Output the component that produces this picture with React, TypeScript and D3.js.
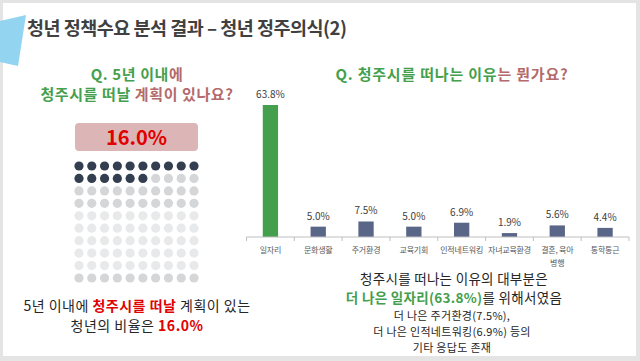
import React from "react";
import * as d3 from "d3";

const categories = ["일자리", "문화생활", "주거환경", "교육기회", "인적네트워킹", "자녀교육환경", "결혼, 육아\n병행", "통학통근"];
const values = [63.8, 5.0, 7.5, 5.0, 6.9, 1.9, 5.6, 4.4];
const leaveShare = 16.0;
const dotRows = 10;
const dotCols = 10;

const FONT = "'Noto Sans CJK KR', 'Noto Sans', sans-serif";
const GREEN = "#44a04c";
const ROSE = "#b46a6a";
const RED = "#e00000";

export default function App() {
  const W = 640, H = 361;
  const x = d3.scaleBand<string>().domain(categories).range([246.5, 629]).paddingInner(0.68).paddingOuter(0.34);
  const band = d3.scaleBand<string>().domain(categories).range([246.5, 629]);
  const y = d3.scaleLinear().domain([0, 63.8]).range([237, 105]);

  const dx = d3.scaleLinear().domain([0, dotCols - 1]).range([79, 194]);
  const dy = d3.scaleLinear().domain([0, dotRows - 1]).range([166, 278]);
  const filled = Math.round(leaveShare);
  const dots = d3.range(dotRows * dotCols).map((i) => {
    const r = Math.floor(i / dotCols);
    const c = i % dotCols;
    let fill = "#333f50";
    if (i >= filled) {
      fill = r <= 3 || r === 9 ? "#d5d6d8" : "#e8e9ea";
    }
    return { r, c, fill };
  });

  const ticks = [...categories.map((c) => band(c) as number), 629];

  return (
    <svg width={W} height={H} style={{ position: "absolute", left: 0, top: 0 }} fontFamily={FONT}>
      <rect x={0} y={0} width={W} height={H} fill="#e4e4e4" />
      <rect x={3} y={3} width={633} height={353} fill="#ffffff" />
      <polygon points="0,21 26,15 18,66 0,62" fill="#93d4f0" />

      <text x={27} y={35} fontSize={18.5} fontWeight={700} fill="#404040" letterSpacing={-0.5}>
        청년 정책수요 분석 결과 – 청년 정주의식(2)
      </text>

      {/* Left question */}
      <text x={137} y={80} textAnchor="middle" fontSize={15} fontWeight={700} fill={GREEN} letterSpacing={0.6}>
        Q. 5년 이내<tspan fill={ROSE}>에</tspan>
      </text>
      <text x={137} y={100} textAnchor="middle" fontSize={15} fontWeight={700} fill={GREEN} letterSpacing={0.6}>
        청주시를 떠날 <tspan fill={ROSE}>계획이 있나요?</tspan>
      </text>

      <rect x={75} y={123} width={123} height={28} rx={4} fill="#dcb6b6" />
      <text x={136.5} y={144.5} textAnchor="middle" fontSize={20} fontWeight={700} fill={RED}>
        {leaveShare.toFixed(1)}%
      </text>

      {dots.map((d, i) => (
        <circle key={i} cx={dx(d.c)} cy={dy(d.r)} r={4.6} fill={d.fill} />
      ))}

      <text x={137} y={311} textAnchor="middle" fontSize={14} fill="#262626" letterSpacing={0.5}>
        5년 이내에 <tspan fill={RED} fontWeight={700}>청주시를 떠날</tspan> 계획이 있는
      </text>
      <text x={137} y={331} textAnchor="middle" fontSize={14} fill="#262626" letterSpacing={0.5}>
        청년의 비율은 <tspan fill={RED} fontWeight={700}>{leaveShare.toFixed(1)}%</tspan>
      </text>

      {/* Right question */}
      <text x={452} y={80} textAnchor="middle" fontSize={15} fontWeight={700} fill={GREEN} letterSpacing={0.8}>
        Q. 청주시를 떠나는 이유<tspan fill={ROSE}>는 뭔가요?</tspan>
      </text>

      {/* Bars */}
      {categories.map((c, i) => (
        <g key={c}>
          <rect
            x={x(c) as number}
            y={y(values[i])}
            width={x.bandwidth()}
            height={y(0) - y(values[i])}
            fill={i === 0 ? GREEN : "#5a6688"}
          />
          <text
            x={(x(c) as number) + x.bandwidth() / 2}
            y={y(values[i]) - 7}
            textAnchor="middle"
            fontSize={10}
            fill="#404040"
          >
            {values[i].toFixed(1)}%
          </text>
          {c.split("\n").map((line, j) => (
            <text
              key={j}
              x={(band(c) as number) + band.bandwidth() / 2}
              y={252.5 + j * 13}
              textAnchor="middle"
              fontSize={8}
              letterSpacing={-0.2}
              fill="#595959"
            >
              {line}
            </text>
          ))}
        </g>
      ))}
      <line x1={246.5} x2={629} y1={237} y2={237} stroke="#bfbfbf" strokeWidth={1} />
      {ticks.map((t, i) => (
        <line key={i} x1={t} x2={t} y1={237} y2={241} stroke="#bfbfbf" strokeWidth={1} />
      ))}

      {/* Right summary */}
      <text x={454} y={284} textAnchor="middle" fontSize={13.5} fill="#262626" letterSpacing={0.3}>
        청주시를 떠나는 이유의 대부분은
      </text>
      <text x={454} y={303} textAnchor="middle" fontSize={13.5} fill="#262626" letterSpacing={0.3}>
        <tspan fill={GREEN} fontWeight={700}>더 나은 일자리({values[0].toFixed(1)}%)</tspan>를 위해서였음
      </text>
      <text x={452} y={320} textAnchor="middle" fontSize={11} fill="#262626" letterSpacing={0.3}>
        더 나은 주거환경({values[2].toFixed(1)}%),
      </text>
      <text x={452} y={336} textAnchor="middle" fontSize={11} fill="#262626" letterSpacing={0.3}>
        더 나은 인적네트워킹({values[4].toFixed(1)}%) 등의
      </text>
      <text x={452} y={352} textAnchor="middle" fontSize={11} fill="#262626" letterSpacing={0.3}>
        기타 응답도 존재
      </text>
    </svg>
  );
}
